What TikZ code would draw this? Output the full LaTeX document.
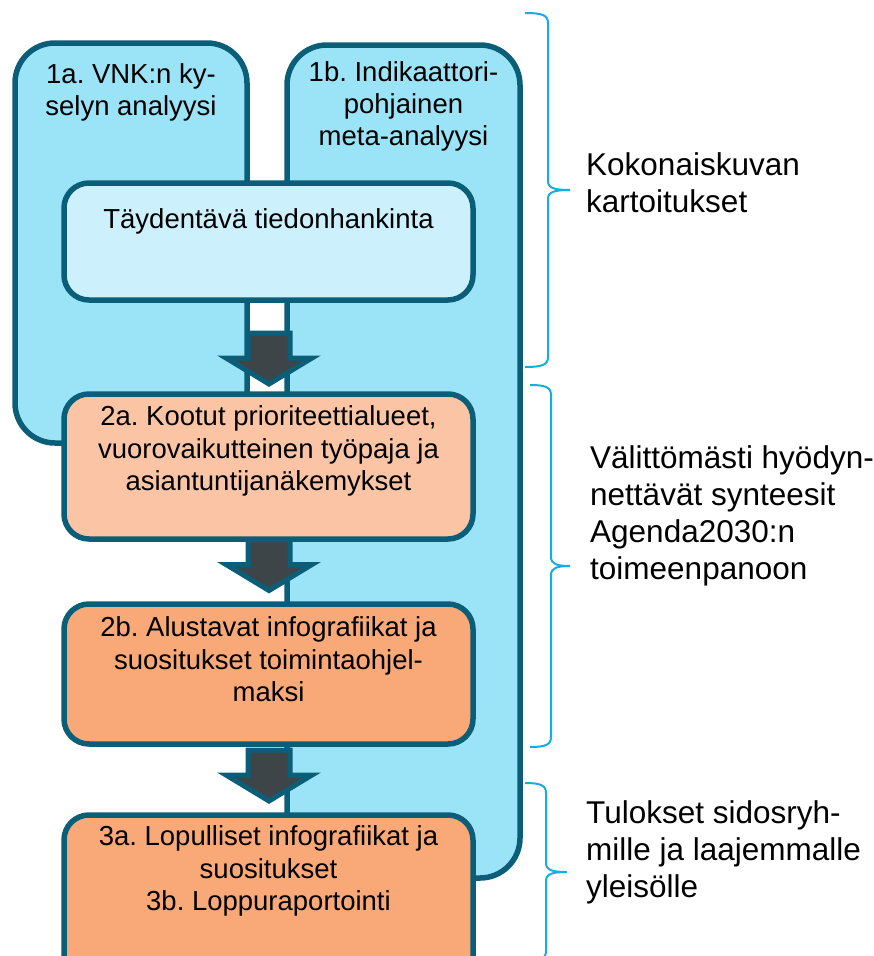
\documentclass[tikz,border=0pt]{standalone}
\usepackage{fontspec}
\setmainfont{Liberation Sans}
\usepackage{tikz}
\frenchspacing

\definecolor{tealline}{HTML}{0B5E78}
\definecolor{paleblue}{HTML}{9BE3F7}
\definecolor{icyblue}{HTML}{CCF1FC}
\definecolor{peach}{HTML}{FBC5A5}
\definecolor{salmon}{HTML}{F9A877}
\definecolor{arrowgrey}{HTML}{3E4548}
\definecolor{bracecol}{HTML}{15AEE3}

\tikzset{
  track/.style={draw=tealline, line width=5.5pt, rounded corners=40pt,
    fill=paleblue, inner sep=0pt, font=\fontsize{27.5}{32}\selectfont},
  stage/.style={draw=tealline, line width=5.5pt, rounded corners=25pt,
    inner sep=0pt, font=\fontsize{27.5}{32.5}\selectfont},
  blockarrow/.style={draw=tealline, line width=5pt, fill=arrowgrey},
  curly/.style={draw=bracecol, line width=2pt},
  sidenote/.style={anchor=north west, inner sep=0pt, align=left,
    font=\fontsize{31.5}{37}\selectfont}
}

\begin{document}
\begin{tikzpicture}[x=1pt,y=-1pt]
   \useasboundingbox (0,0) rectangle (873,956);
   \clip (0,0) rectangle (873,956);
   \fill[white] (0,0) rectangle (873,956);

   % two long tracks behind everything
   \path (131,243) node[track] (V1a)
   {\parbox[c][400pt][t]{232pt}{\centering\vspace*{21pt}%
     1a. VNK:n ky-\\selyn analyysi}};
   \path (403.5,461.5) node[track] (I1b)
   {\parbox[c][833pt][t]{233pt}{\centering\vspace*{17pt}%
     1b. Indikaattori-\\pohjainen\\meta-analyysi}};

   % stages
   \path (268.5,241.5) node[stage, fill=icyblue] (Tay)
   {\parbox[c][117pt][t]{409pt}{\centering\vspace*{26pt}%
     Täydentävä tiedonhankinta}};
   \path (268.5,466.5) node[stage, fill=peach] (K2a)
   {\parbox[c][145pt][t]{409pt}{\centering\vspace*{12pt}%
     2a. Kootut prioriteettialueet,\\vuorovaikutteinen työpaja ja\\asiantuntijanäkemykset}};
   \path (268.5,674) node[stage, fill=salmon] (A2b)
   {\parbox[c][140pt][t]{409pt}{\centering\vspace*{13pt}%
     2b. Alustavat infografiikat ja\\suositukset toimintaohjel-\\maksi}};
   \path (268.5,902.5) node[stage, fill=salmon] (L3a)
   {\parbox[c][175pt][t]{409pt}{\centering\vspace*{11pt}%
     3a. Lopulliset infografiikat ja\\suositukset\\3b. Loppuraportointi}};

   % block arrows between the stages
   \coordinate (ar1) at (269,333);
   \coordinate (ar2) at (269,539.5);
   \coordinate (ar3) at (269,750);
   \foreach \a in {ar1,ar2,ar3}
     \draw[blockarrow] (\a) ++(-21,0) -- ++(42,0) -- ++(0,25) -- ++(22,0)
       -- ++(-43,26) -- ++(-43,-26) -- ++(22,0) -- cycle;

   % braces on the right
   \foreach \xa/\xb/\xc/\ya/\yb in {525/548/570/13/367, 530/551/570/385/747,
                                    525/546/567/783/961} {
     \pgfmathsetmacro{\ym}{(\ya+\yb)/2}
     \draw[curly] (\xa,\ya) .. controls (\xb-6,\ya) and (\xb,\ya+2) .. (\xb,\ya+10)
       -- (\xb,\ym-9) .. controls (\xb,\ym-2) and (\xb+6,\ym) .. (\xc,\ym)
       .. controls (\xb+6,\ym) and (\xb,\ym+2) .. (\xb,\ym+9)
       -- (\xb,\yb-10) .. controls (\xb,\yb-2) and (\xb-6,\yb) .. (\xa,\yb);
   }

   \path (586,152) node[sidenote] (kok) {Kokonaiskuvan\\kartoitukset};
   \path (590,445) node[sidenote] (val)
   {Välittömästi hyödyn-\\nettävät synteesit\\Agenda2030:n\\toimeenpanoon};
   \path (586,800) node[sidenote] (tul)
   {Tulokset sidosryh-\\mille ja laajemmalle\\yleisölle};
\end{tikzpicture}
\end{document}
